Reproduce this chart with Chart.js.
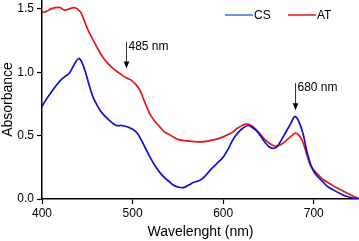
<!DOCTYPE html>
<html><head><meta charset="utf-8">
<script src="https://cdn.jsdelivr.net/npm/chart.js@4"></script>
<style>html,body{margin:0;padding:0;background:#fff}#wrap{width:359px;height:241px}</style>
</head><body><div id="wrap"><canvas id="c" width="359" height="241"></canvas></div>
<script>
const seriesNames = ["CS", "AT"];
const nmCS = [400,405,410,415,421,426,430,434,438,441,444,448,452,456,460,465,470,476,482,488,494,500,505,510,515,520,525,530,535,540,545,550,556,562,567,575,580,586,593,600,606,611,616,622,628,633,638,643,647,651,655,659,663,667,671,675,679,683,688,693,699,704,708,715,722,730,737,745,750];
const absCS = [0.73,0.79,0.84,0.89,0.94,0.97,0.99,1.04,1.09,1.11,1.08,1.00,0.90,0.81,0.75,0.69,0.65,0.61,0.58,0.58,0.57,0.55,0.52,0.46,0.39,0.32,0.26,0.21,0.17,0.14,0.11,0.095,0.09,0.11,0.13,0.15,0.18,0.23,0.28,0.33,0.40,0.47,0.52,0.56,0.58,0.56,0.53,0.48,0.44,0.41,0.40,0.41,0.45,0.50,0.55,0.60,0.65,0.62,0.52,0.36,0.23,0.18,0.15,0.10,0.07,0.04,0.02,0.005,0.0];
const nmAT = [400,405,410,415,420,425,430,435,439,443,447,451,456,462,468,474,480,486,492,498,504,508,512,516,520,525,530,535,540,545,550,557,565,575,585,592,600,606,611,616,621,626,631,636,641,646,651,656,661,666,671,676,680,684,688,692,696,700,705,711,718,725,732,740,746,750];
const absAT = [1.47,1.48,1.50,1.51,1.51,1.49,1.50,1.51,1.50,1.47,1.40,1.33,1.26,1.18,1.11,1.06,1.02,0.99,0.96,0.94,0.90,0.86,0.79,0.72,0.66,0.61,0.57,0.53,0.51,0.49,0.47,0.46,0.455,0.45,0.46,0.47,0.49,0.51,0.53,0.56,0.58,0.59,0.58,0.55,0.51,0.47,0.44,0.42,0.42,0.44,0.47,0.50,0.52,0.50,0.45,0.36,0.27,0.23,0.19,0.15,0.12,0.09,0.065,0.035,0.015,0.005];
const xTicks = [400, 500, 600, 700];
const yTicks = [0, 0.5, 1.0, 1.5];
const annotations = [
  {label: "485 nm", x: 493, yTop: 1.24, yTip: 1.03},
  {label: "680 nm", x: 679, yTop: 0.915, yTip: 0.70}
];

const toPts = (xs, ys) => xs.map((x, i) => ({x: x, y: ys[i]}));
const FONT = "'Liberation Sans', Arial, sans-serif";
const BLUE = "#1010c8", RED = "#e01818", LEGBLUE = "#2f78d0";

const overlay = {
  id: "overlay",
  afterDraw(chart) {
    const ctx = chart.ctx, xs = chart.scales.x, ys = chart.scales.y;
    ctx.save();
    ctx.font = "12px " + FONT;
    ctx.textBaseline = "middle";
    ctx.fillStyle = "#000";
    annotations.forEach(a => {
      const px = Math.round(xs.getPixelForValue(a.x)) + 0.5;
      const t = ys.getPixelForValue(a.yTop), b = ys.getPixelForValue(a.yTip);
      ctx.strokeStyle = "#333"; ctx.lineWidth = 1;
      ctx.beginPath(); ctx.moveTo(px, t); ctx.lineTo(px, b - 6); ctx.stroke();
      ctx.beginPath(); ctx.moveTo(px - 2.8, b - 7); ctx.lineTo(px + 2.8, b - 7); ctx.lineTo(px, b); ctx.closePath(); ctx.fill();
      ctx.textAlign = "left";
      ctx.fillText(a.label, px + 2, t + 5);
    });
    const items = [{n: seriesNames[0], c: LEGBLUE, x: 225}, {n: seriesNames[1], c: RED, x: 288}];
    items.forEach(it => {
      ctx.strokeStyle = it.c; ctx.lineWidth = 1.5;
      ctx.beginPath(); ctx.moveTo(it.x, 15); ctx.lineTo(it.x + 28, 15); ctx.stroke();
      ctx.fillStyle = "#000"; ctx.textAlign = "left";
      ctx.fillText(it.n, it.x + 29, 15.5);
    });
    ctx.restore();
  }
};

new Chart(document.getElementById("c"), {
  type: "line",
  data: {
    datasets: [
      {label: seriesNames[0], data: toPts(nmCS, absCS), borderColor: BLUE, borderWidth: 1.7, pointRadius: 0, tension: 0.35, fill: false},
      {label: seriesNames[1], data: toPts(nmAT, absAT), borderColor: RED, borderWidth: 1.7, pointRadius: 0, tension: 0.35, fill: false}
    ]
  },
  options: {
    responsive: false, animation: false, devicePixelRatio: 1,
    layout: {padding: 0},
    plugins: {legend: {display: false}, tooltip: {enabled: false}},
    scales: {
      x: {
        type: "linear", min: 400, max: 750,
        afterBuildTicks: s => { s.ticks = xTicks.map(v => ({value: v})); },
        afterFit: s => { s.height = 42; s.paddingLeft = 0; s.paddingRight = 0; },
        ticks: {color: "#000", font: {family: FONT, size: 12}, padding: 2, maxRotation: 0,
          callback: v => String(v)},
        grid: {display: true, drawOnChartArea: false, drawTicks: true, tickLength: 5, color: "#000", tickWidth: 1.2},
        border: {display: true, color: "#000", width: 1.5},
        title: {display: true, text: "Wavelenght (nm)", color: "#000", font: {family: FONT, size: 14}, padding: {top: 0, bottom: 0}}
      },
      y: {
        min: 0, max: 1.57,
        afterBuildTicks: s => { s.ticks = yTicks.map(v => ({value: v})); },
        afterFit: s => { s.width = 42; s.paddingTop = 0; s.paddingBottom = 0; },
        ticks: {color: "#000", font: {family: FONT, size: 12}, padding: 3, callback: v => Number(v).toFixed(1)},
        grid: {display: true, drawOnChartArea: false, drawTicks: true, tickLength: 5, color: "#000", tickWidth: 1.2},
        border: {display: true, color: "#000", width: 1.5},
        title: {display: true, text: "Absorbance", color: "#000", font: {family: FONT, size: 14}, padding: 0}
      }
    }
  },
  plugins: [overlay]
});
</script></body></html>
